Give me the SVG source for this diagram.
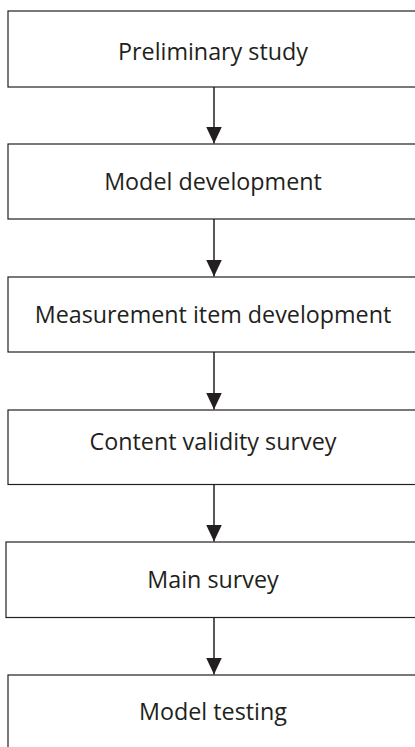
<svg xmlns="http://www.w3.org/2000/svg" width="415" height="747" viewBox="0 0 415 747">
<defs>
<marker id="ah" markerWidth="17" markerHeight="17" refX="17" refY="8" orient="auto" markerUnits="userSpaceOnUse">
<path d="M0,0 L17,8 L0,16 Z" fill="#231f20"/>
</marker>
<style>
.box{fill:#fff;stroke:#231f20;stroke-width:1.2}
.lbl{font-family:"Open Sans","Liberation Sans",sans-serif;font-size:23.3px;fill:#231f20;text-anchor:middle}
.con{stroke:#231f20;stroke-width:1.5;fill:none}
</style>
</defs>
<rect width="415" height="747" fill="#fff"/>
<g id="connectors">
<line class="con" x1="214" y1="87" x2="214" y2="143.5" marker-end="url(#ah)"/>
<line class="con" x1="214" y1="219" x2="214" y2="276.5" marker-end="url(#ah)"/>
<line class="con" x1="214" y1="352" x2="214" y2="409.5" marker-end="url(#ah)"/>
<line class="con" x1="214" y1="484.5" x2="214" y2="541.5" marker-end="url(#ah)"/>
<line class="con" x1="214" y1="617.5" x2="214" y2="674.5" marker-end="url(#ah)"/>
</g>
<g id="n1"><rect class="box" x="8" y="11" width="420" height="76"/><text class="lbl" x="213" y="60">Preliminary study</text></g>
<g id="n2"><rect class="box" x="8" y="144" width="420" height="75"/><text class="lbl" x="213" y="190">Model development</text></g>
<g id="n3"><rect class="box" x="8" y="277" width="420" height="75"/><text class="lbl" x="213" y="322.5">Measurement item development</text></g>
<g id="n4"><rect class="box" x="8" y="410" width="420" height="74.5"/><text class="lbl" x="213" y="450">Content validity survey</text></g>
<g id="n5"><rect class="box" x="6" y="542" width="422" height="75.5"/><text class="lbl" x="213" y="588">Main survey</text></g>
<g id="n6"><rect class="box" x="8" y="675" width="420" height="80"/><text class="lbl" x="213" y="720">Model testing</text></g>
</svg>
